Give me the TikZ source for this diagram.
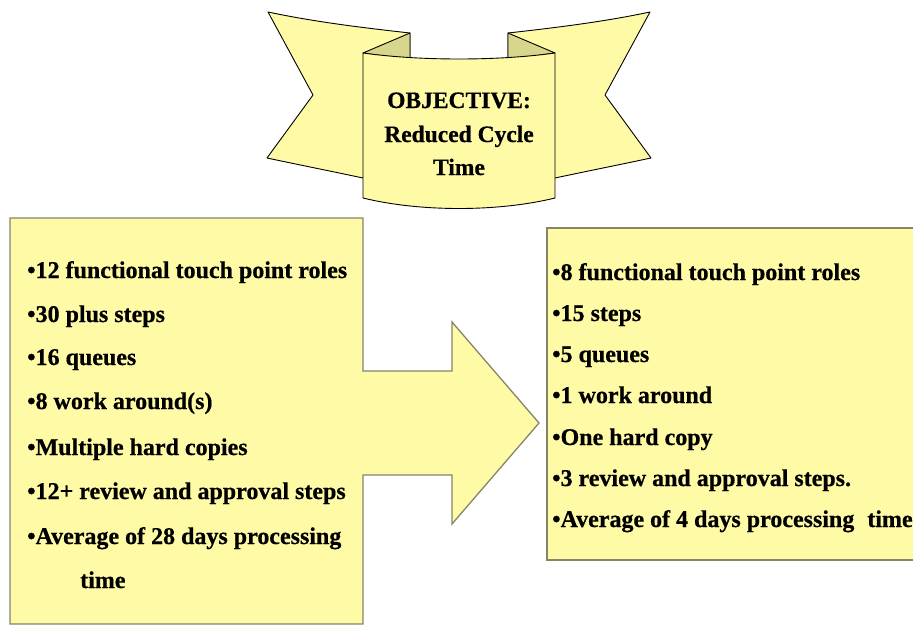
\documentclass[tikz,border=0pt]{standalone}
\usepackage{fontspec}
\setmainfont{Liberation Serif}
\newfontfamily\heavyserif{Liberation Serif Bold}[FakeBold=0.6]
\definecolor{ribbonfill}{HTML}{FFFAA5}
\definecolor{foldfill}{HTML}{D8D58C}
\definecolor{boxline}{HTML}{85856A}
\begin{document}
\begin{tikzpicture}[x=1pt,y=-1pt,
  ribbon/.style={fill=ribbonfill, draw=black, line width=0.9pt, line join=round},
  fold/.style={fill=foldfill, draw=black, line width=0.9pt, line join=round},
  panel/.style={fill=ribbonfill, draw=boxline, line width=1.3pt, line join=miter},
  item/.style={anchor=base west, inner sep=0pt, font=\heavyserif\fontsize{24}{28}\selectfont},
  title/.style={anchor=base, inner sep=0pt, font=\heavyserif\fontsize{23.5}{28}\selectfont}]
\useasboundingbox (0,0) rectangle (913,626);
\clip (0,0) rectangle (913,626);

% ribbon banner: wings, folds, then the front panel
\draw[ribbon] (268,12) .. controls (315,22) and (365,28) .. (410,33) -- (410,120) -- (363,178)
  .. controls (330,171) and (300,165) .. (267,158) -- (313,95) -- cycle;
\draw[ribbon] (650,12) .. controls (603,22) and (553,28) .. (508,33) -- (508,120) -- (555,178)
  .. controls (588,171) and (618,165) .. (651,158) -- (605,95) -- cycle;
\draw[fold] (410,33) -- (363,53) -- (410,60) -- cycle;
\draw[fold] (508,33) -- (555,53) -- (508,60) -- cycle;
\draw[ribbon] (363,53) .. controls (420,61) and (498,61) .. (555,53) -- (555,198)
  .. controls (498,212) and (420,212) .. (363,198) -- cycle;

\node[title] (t1) at (459,108) {OBJECTIVE:};
\node[title] (t2) at (459,142) {Reduced Cycle};
\node[title] (t3) at (459,175) {Time};

% current process box with its arrow
\draw[panel] (10,218) -- (363,218) -- (363,371) -- (452,371) -- (452,322) -- (539,423)
  -- (452,524) -- (452,475) -- (363,475) -- (363,624) -- (10,624) -- cycle;

% improved process box, running on past the right edge
\draw[panel] (547,228) rectangle (940,560);

\node[item] (a1) at (27,278) {•12 functional touch point roles};
\node[item] (a2) at (27,322) {•30 plus steps};
\node[item] (a3) at (27,365) {•16 queues};
\node[item] (a4) at (27,409) {•8 work around(s)};
\node[item] (a5) at (27,455) {•Multiple hard copies};
\node[item] (a6) at (27,499) {•12+ review and approval steps};
\node[item] (a7) at (27,544) {•Average of 28 days processing};
\node[item] (a8) at (80,588) {time};

\node[item] (b1) at (552,280) {•8 functional touch point roles};
\node[item] (b2) at (552,321) {•15 steps};
\node[item] (b3) at (552,362) {•5 queues};
\node[item] (b4) at (552,403) {•1 work around};
\node[item] (b5) at (552,445) {•One hard copy};
\node[item] (b6) at (552,486) {•3 review and approval steps.};
\node[item] (b7) at (552,527) {•Average of 4 days processing\hspace{13pt}time};
\end{tikzpicture}
\end{document}
